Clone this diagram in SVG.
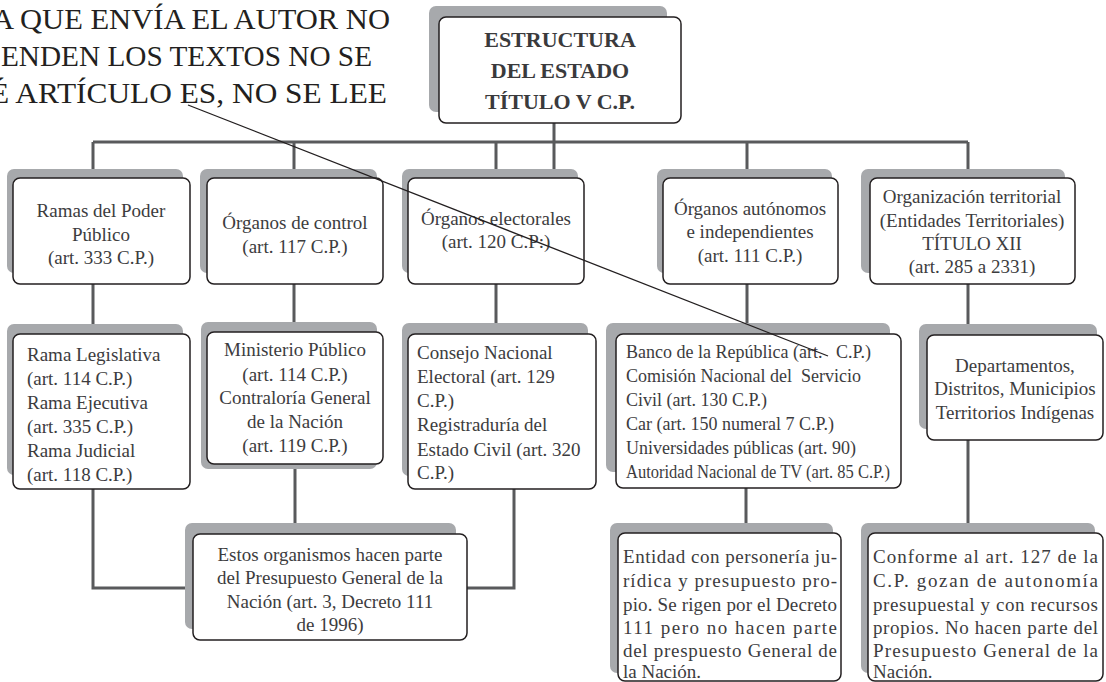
<svg xmlns="http://www.w3.org/2000/svg" width="1106" height="682" viewBox="0 0 1106 682">
<style>
.sh{fill:#a7a9ac}
.bx{fill:#fff;stroke:#231f20;stroke-width:1.5}
.cn{fill:none;stroke:#595a5c;stroke-width:3}
.t{font-family:"Liberation Serif","Times New Roman",serif;font-size:19px;fill:#3c3c3e}
.c{text-anchor:middle}
.b{font-weight:bold;font-size:22px;fill:#3a3a3c}
.big{font-family:"Liberation Serif","Times New Roman",serif;font-size:29px;fill:#231f20}
.pre{white-space:pre}
</style>
<rect width="1106" height="682" fill="#fff"/>
<g id="note">
<text class="big" x="-8" y="29" textLength="398" lengthAdjust="spacingAndGlyphs">A QUE ENVÍA EL AUTOR NO</text>
<text class="big" x="1" y="66" textLength="371" lengthAdjust="spacingAndGlyphs">ENDEN LOS TEXTOS NO SE</text>
<text class="big" x="-10" y="103" textLength="397" lengthAdjust="spacingAndGlyphs">É ARTÍCULO ES, NO SE LEE</text>
</g>
<g id="connectors">
<path class="cn" d="M93 142H968M554 123V170M93 142V170M294 142V170M496 142V170M747 142V170M968 142V170"/>
<path class="cn" d="M93 284V324M294 284V323M496 284V324M747 284V324M968 284V324"/>
<path class="cn" d="M93 489V588H193M295 464V524M514 489V588H467M746 488V524M968 440V524"/>
</g>
<g id="root">
<rect class="sh" x="429" y="6" width="238" height="106" rx="7"/>
<rect class="bx" x="439" y="17" width="242" height="106" rx="7"/>
<text class="t c b" x="560" y="47">ESTRUCTURA</text>
<text class="t c b" x="560" y="78">DEL ESTADO</text>
<text class="t c b" x="560" y="109">TÍTULO V C.P.</text>
</g>
<g id="ramas">
<rect class="sh" x="7" y="169" width="176" height="104" rx="7"/>
<rect class="bx" x="13" y="178" width="177" height="106" rx="7"/>
<text class="t c" x="101" y="217">Ramas del Poder</text>
<text class="t c" x="101" y="241">Público</text>
<text class="t c" x="101" y="264">(art. 333 C.P.)</text>
</g>
<g id="control">
<rect class="sh" x="200" y="169" width="177" height="104" rx="7"/>
<rect class="bx" x="207" y="178" width="176" height="106" rx="7"/>
<text class="t c" x="295" y="229">Órganos de control</text>
<text class="t c" x="295" y="253">(art. 117 C.P.)</text>
</g>
<g id="electorales">
<rect class="sh" x="402" y="169" width="176" height="104" rx="7"/>
<rect class="bx" x="408" y="178" width="176" height="106" rx="7"/>
<text class="t c" x="496" y="225">Órganos electorales</text>
<text class="t c" x="496" y="248">(art. 120 C.P:)</text>
</g>
<g id="autonomos">
<rect class="sh" x="657" y="169" width="175" height="104" rx="7"/>
<rect class="bx" x="663" y="178" width="175" height="106" rx="7"/>
<text class="t c" x="750" y="215">Órganos autónomos</text>
<text class="t c" x="750" y="238">e independientes</text>
<text class="t c" x="750" y="262">(art. 111 C.P.)</text>
</g>
<g id="territorial">
<rect class="sh" x="861" y="169" width="204" height="104" rx="7"/>
<rect class="bx" x="870" y="178" width="205" height="106" rx="7"/>
<text class="t c" x="972" y="203">Organización territorial</text>
<text class="t c" x="972" y="227">(Entidades Territoriales)</text>
<text class="t c" x="972" y="250">TÍTULO XII</text>
<text class="t c" x="972" y="273">(art. 285 a 2331)</text>
</g>
<g id="ramas-detalle">
<rect class="sh" x="7" y="324" width="176" height="151" rx="7"/>
<rect class="bx" x="13" y="334" width="177" height="155" rx="7"/>
<text class="t" x="27" y="361">Rama Legislativa</text>
<text class="t" x="27" y="385">(art. 114 C.P.)</text>
<text class="t" x="27" y="409">Rama Ejecutiva</text>
<text class="t" x="27" y="433">(art. 335 C.P.)</text>
<text class="t" x="27" y="457">Rama Judicial</text>
<text class="t" x="27" y="481">(art. 118 C.P.)</text>
</g>
<g id="ministerio">
<rect class="sh" x="201" y="322" width="176" height="147" rx="7"/>
<rect class="bx" x="207" y="332" width="176" height="132" rx="7"/>
<text class="t c" x="295" y="356">Ministerio Público</text>
<text class="t c" x="295" y="381">(art. 114 C.P.)</text>
<text class="t c" x="295" y="404">Contraloría General</text>
<text class="t c" x="295" y="428">de la Nación</text>
<text class="t c" x="295" y="452">(art. 119 C.P.)</text>
</g>
<g id="consejo">
<rect class="sh" x="402" y="323" width="186" height="153" rx="7"/>
<rect class="bx" x="408" y="334" width="188" height="155" rx="7"/>
<text class="t" x="417" y="359">Consejo Nacional</text>
<text class="t" x="417" y="383">Electoral (art. 129</text>
<text class="t" x="417" y="407">C.P.)</text>
<text class="t" x="417" y="431">Registraduría del</text>
<text class="t" x="417" y="456">Estado Civil (art. 320</text>
<text class="t" x="417" y="479">C.P.)</text>
</g>
<g id="banco">
<rect class="sh" x="606" y="323" width="284" height="149" rx="7"/>
<rect class="bx" x="616" y="334" width="285" height="154" rx="7"/>
<text class="t pre" x="626" y="358" style="font-size:18px">Banco de la República (art.   C.P.)</text>
<text class="t pre" x="626" y="382" style="font-size:18px">Comisión Nacional del  Servicio</text>
<text class="t" x="626" y="406" style="font-size:18px">Civil (art. 130 C.P.)</text>
<text class="t" x="626" y="430" style="font-size:18px">Car (art. 150 numeral 7 C.P.)</text>
<text class="t" x="626" y="454" style="font-size:18px">Universidades públicas (art. 90)</text>
<text class="t" x="626" y="478" style="font-size:18px" textLength="264" lengthAdjust="spacingAndGlyphs">Autoridad Nacional de TV (art. 85 C.P.)</text>
</g>
<g id="departamentos">
<rect class="sh" x="919" y="324" width="178" height="105" rx="7"/>
<rect class="bx" x="927" y="335" width="176" height="105" rx="7"/>
<text class="t c" x="1015" y="372">Departamentos,</text>
<text class="t c" x="1015" y="395">Distritos, Municipios</text>
<text class="t c" x="1015" y="419">Territorios Indígenas</text>
</g>
<g id="presupuesto">
<rect class="sh" x="185" y="523" width="271" height="106" rx="7"/>
<rect class="bx" x="193" y="534" width="274" height="106" rx="7"/>
<text class="t c" x="330" y="561">Estos organismos hacen parte</text>
<text class="t c" x="330" y="584">del Presupuesto General de la</text>
<text class="t c" x="330" y="608">Nación (art. 3, Decreto 111</text>
<text class="t c" x="330" y="631">de 1996)</text>
</g>
<g id="entidad">
<rect class="sh" x="610" y="523" width="223" height="150" rx="7"/>
<rect class="bx" x="618" y="533" width="223" height="148" rx="7"/>
<text class="t" x="623" y="563" textLength="214" lengthAdjust="spacing">Entidad con personería ju-</text>
<text class="t" x="623" y="587" textLength="214" lengthAdjust="spacing">rídica y presupuesto pro-</text>
<text class="t" x="623" y="611" textLength="214" lengthAdjust="spacing">pio. Se rigen por el Decreto</text>
<text class="t" x="623" y="634" textLength="214" lengthAdjust="spacing">111 pero no hacen parte</text>
<text class="t" x="623" y="657" textLength="214" lengthAdjust="spacing">del prespuesto General de</text>
<text class="t" x="623" y="678">la Nación.</text>
</g>
<g id="conforme">
<rect class="sh" x="861" y="523" width="234" height="150" rx="7"/>
<rect class="bx" x="868" y="533" width="235" height="148" rx="7"/>
<text class="t" x="873" y="563" textLength="225" lengthAdjust="spacing">Conforme al art. 127 de la</text>
<text class="t" x="873" y="587" textLength="225" lengthAdjust="spacing">C.P. gozan de autonomía</text>
<text class="t" x="873" y="611" textLength="225" lengthAdjust="spacing">presupuestal y con recursos</text>
<text class="t" x="873" y="634" textLength="225" lengthAdjust="spacing">propios. No hacen parte del</text>
<text class="t" x="873" y="657" textLength="225" lengthAdjust="spacing">Presupuesto General de la</text>
<text class="t" x="873" y="678">Nación.</text>
</g>
<g id="annotation-line">
<line x1="188" y1="105" x2="828" y2="356" stroke="#231f20" stroke-width="1.3"/>
</g>
</svg>
